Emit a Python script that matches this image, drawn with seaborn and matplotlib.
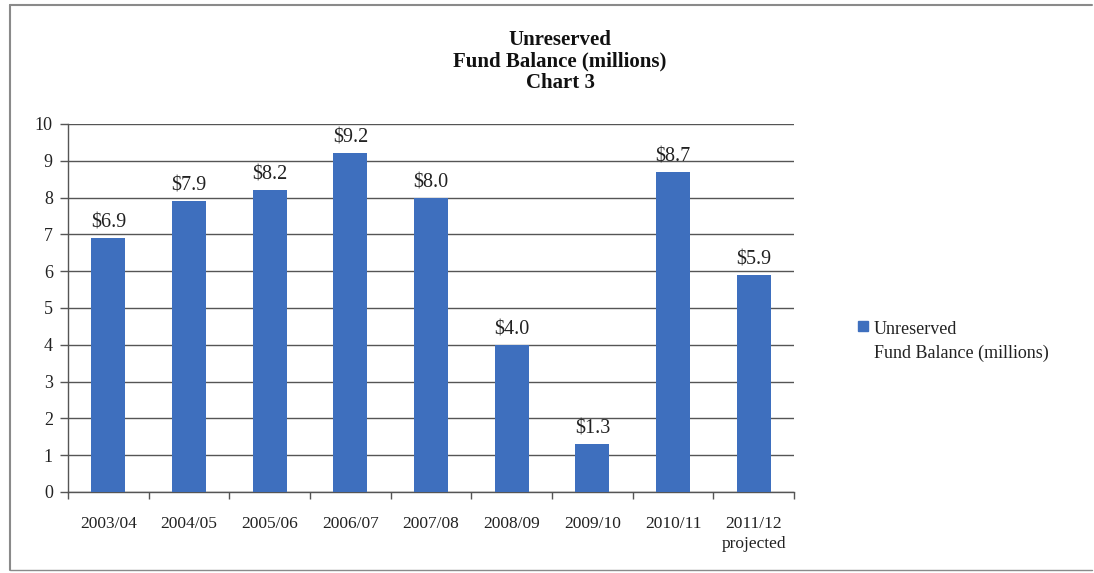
import matplotlib
matplotlib.use("Agg")
import matplotlib.pyplot as plt
from matplotlib.lines import Line2D
from matplotlib.legend_handler import HandlerLine2D
import seaborn as sns
import pandas as pd
import numpy as np

# Fiscal years and unreserved fund balance (millions of dollars)
years = ["2003/04", "2004/05", "2005/06", "2006/07", "2007/08",
         "2008/09", "2009/10", "2010/11", "2011/12\nprojected"]
balance = [6.9, 7.9, 8.2, 9.2, 8.0, 4.0, 1.3, 8.7, 5.9]
series_name = "Unreserved\nFund Balance (millions)"
y_ticks = list(range(0, 11))

bar_color = "#3E6FBE"

sns.set_style("white")
plt.rcParams["font.family"] = ["Liberation Serif", "DejaVu Serif"]

df = pd.DataFrame({"year": years, "balance": balance})

fig = plt.figure(figsize=(10.94, 5.73), dpi=100)
ax = fig.add_axes([0.0622, 0.1414, 0.6636, 0.6422])

sns.barplot(data=df, x="year", y="balance", color=bar_color, width=0.42,
            saturation=1, linewidth=0, ax=ax, zorder=3)

ax.set_ylim(0, 10)
ax.set_yticks(y_ticks)
ax.set_xlim(-0.5, len(years) - 0.5)
ax.yaxis.grid(True, color="#555555", linewidth=1.0, zorder=0)
ax.xaxis.grid(False)
ax.set_xlabel("")
ax.set_ylabel("")

for side in ["top", "right"]:
    ax.spines[side].set_visible(False)
for side in ["left", "bottom"]:
    ax.spines[side].set_color("#555555")
    ax.spines[side].set_linewidth(1.0)

ax.tick_params(axis="y", which="major", length=6, width=1.0, color="#555555",
               labelsize=13, labelcolor="#222222", pad=5, left=True)
ax.tick_params(axis="x", which="major", length=0, labelsize=12.5,
               labelcolor="#222222", pad=17)
for lbl in ax.get_xticklabels():
    lbl.set_linespacing(1.35)
ax.set_xticks(np.arange(-0.5, len(years), 1.0), minor=True)
ax.tick_params(axis="x", which="minor", length=5, width=1.0, color="#555555",
               bottom=True)

labels = ["\\$%.1f" % v for v in balance]
ax.bar_label(ax.containers[0], labels=labels, padding=4, fontsize=14.5,
             color="#222222")

fig.text(0.512, 0.948, "Unreserved\nFund Balance (millions)\nChart 3",
         ha="center", va="top", fontsize=15, fontweight="bold",
         linespacing=1.1, color="#111111")


class FirstLineMarker(HandlerLine2D):
    """Legend handler that lines the marker up with the first text line."""

    def create_artists(self, legend, orig_handle, xdescent, ydescent,
                       width, height, fontsize, trans):
        artists = super().create_artists(legend, orig_handle, xdescent,
                                         ydescent, width, height, fontsize,
                                         trans)
        for a in artists:
            a.set_ydata(np.asarray(a.get_ydata(), dtype=float)
                        + fontsize * 0.85)
        return artists


handle = Line2D([], [], marker="s", linestyle="none", markersize=7,
                markerfacecolor=bar_color, markeredgecolor=bar_color)
leg = fig.legend([handle], [series_name], loc="center left",
                 bbox_to_anchor=(0.778, 0.404), frameon=False, fontsize=13,
                 handlelength=0.55, handletextpad=0.3, borderaxespad=0,
                 handler_map={Line2D: FirstLineMarker()})
for t in leg.get_texts():
    t.set_linespacing(1.45)
    t.set_color("#222222")

# Outer frame of the chart
frame_color = "#8a8a8a"
fig.add_artist(Line2D([0.009, 0.009], [0.005, 0.991], color=frame_color,
                      linewidth=1.5, transform=fig.transFigure))
fig.add_artist(Line2D([0.009, 0.998], [0.991, 0.991], color=frame_color,
                      linewidth=1.5, transform=fig.transFigure))
fig.add_artist(Line2D([0.009, 0.998], [0.005, 0.005], color=frame_color,
                      linewidth=1.0, transform=fig.transFigure))

fig.savefig("out.png", dpi=100)
